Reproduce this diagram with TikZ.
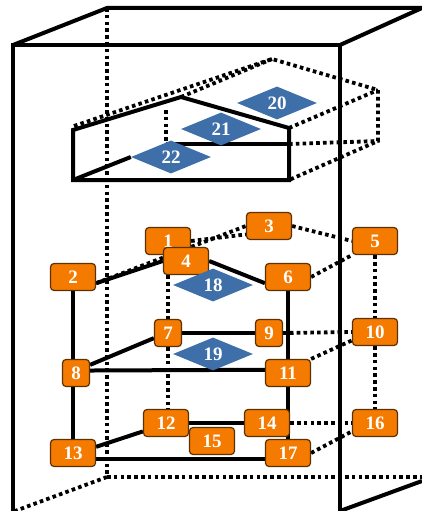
\documentclass[tikz,border=0pt]{standalone}
\usepackage{fontspec}
\setmainfont{Liberation Serif}
\usetikzlibrary{shapes.geometric,backgrounds,calc}
\definecolor{orangebox}{HTML}{F57A00}
\definecolor{orangeedge}{HTML}{5A3208}
\definecolor{bluedia}{HTML}{3F6FA8}
\tikzset{
  solidline/.style={line width=4pt,black,line join=miter},
  dotline/.style={line width=3.8pt,black,dash pattern=on 3.6pt off 3.2pt},
  labeltext/.style={text=white,font=\bfseries\fontsize{19}{21}\selectfont,inner sep=0pt},
  widebox/.style={labeltext,draw=orangeedge,line width=1.2pt,fill=orangebox,rounded corners=3.5pt,minimum width=45pt,minimum height=27pt},
  narrowbox/.style={widebox,minimum width=27pt},
  diabox/.style={labeltext,diamond,fill=bluedia,draw=none,minimum width=80pt,minimum height=33pt,aspect=2.4},
}
\begin{document}
\begin{tikzpicture}[x=1pt,y=-1pt]
\useasboundingbox (0,0) rectangle (422,511);
% lower assembly nodes
\node[widebox] (n1) at (168,241) {1};
\node[widebox] (n3) at (269,226) {3};
\node[widebox] (n5) at (375,241) {5};
\node[widebox] (n2) at (73,277) {2};
\node[widebox] (n6) at (288,277) {6};
\node[widebox] (n4) at (186,261) {4};
\node[diabox] (n18) at (213,285) {18};
\node[narrowbox] (n7) at (168,333) {7};
\node[narrowbox] (n9) at (269,333) {9};
\node[widebox] (n10) at (375,332) {10};
\node[diabox] (n19) at (213,354) {19};
\node[narrowbox] (n8) at (76,373) {8};
\node[widebox] (n11) at (288,373) {11};
\node[widebox] (n12) at (166,423) {12};
\node[widebox] (n14) at (267,423) {14};
\node[widebox] (n16) at (375,423) {16};
\node[widebox] (n13) at (73,453) {13};
\node[widebox] (n17) at (288,453) {17};
\node[widebox] (n15) at (212,441) {15};
% upper prism nodes
\node[diabox] (n20) at (277,103) {20};
\node[diabox] (n21) at (221,129) {21};
\node[diabox] (n22) at (171,157) {22};
% prism corners
\coordinate (pa) at (73,130);
\coordinate (pb) at (181,97);
\coordinate (pc) at (289,128);
\coordinate (pd) at (289,180);
\coordinate (pe) at (73,180);
\coordinate (pf) at (289,144);
\coordinate (pg) at (166,144);
\coordinate (qa) at (74,126);
\coordinate (qb) at (272,59);
\coordinate (qc) at (378,90);
\coordinate (qd) at (378,141);
\coordinate (qh) at (166,110);
% cabinet corners
\coordinate (fa) at (13,45);
\coordinate (fb) at (340,45);
\coordinate (fc) at (340,511);
\coordinate (fd) at (13,511);
\coordinate (ba) at (107,8);
\coordinate (bb) at (422,8);
\coordinate (bc) at (107,477);
\coordinate (bd) at (422,477);
\coordinate (be) at (422,481);
\coordinate (bf) at (15,511);
\begin{scope}[on background layer]
  % cabinet
  \draw[dotline] (ba) -- (bc);
  \draw[dotline] (bc) -- (bd);
  \draw[dotline] (bc) -- (bf);
  \draw[solidline] (fd) -- (fa) -- (fb) -- (fc);
  \draw[solidline] (fa) -- (ba) -- (bb) -- (fb);
  \draw[solidline] (fc) -- (be);
  % prism
  \draw[dotline] (qa) -- (qb) -- (qc) -- (qd) -- (pd);
  \draw[dotline] (pb) -- (qb);
  \draw[dotline] (pc) -- (qc);
  \draw[dotline] (pf) -- (qd);
  \draw[dotline] (qh) -- (pg);
  \draw[solidline] (pa) -- (pb) -- (pc) -- (pd) -- (pe) -- cycle;
  \draw[solidline] (pe) -- (n22.west);
  \draw[solidline] (pg) -- (pf);
  % lower assembly
  \draw[dotline] (n2.-15) -- (n3.west);
  \draw[dotline] (n1.east) -- (n3.200);
  \draw[dotline] (n3.east) -- (n5.west);
  \draw[dotline] (n6.east) -- (n5.south west);
  \draw[dotline] (n5.south) -- (n10.north);
  \draw[dotline] (n10.south) -- (n16.north);
  \draw[dotline] (n9.east) -- (n10.west);
  \draw[dotline] (n11.north east) -- (n10.200);
  \draw[dotline] (n14.east) -- (n16.west);
  \draw[dotline] (n17.east) -- (n16.200);
  \draw[dotline] (n4.south -| n7) -- (n7.north);
  \draw[dotline] (n7.south) -- (n12.north -| n7);
  \draw[solidline] (n2.-15) -- (n4.west);
  \draw[solidline] (n4.east) -- (n6.195);
  \draw[solidline] (n2.south) -- (n8.north -| n2);
  \draw[solidline] (n8.south -| n13) -- (n13.north);
  \draw[solidline] (n6.south) -- (n11.north);
  \draw[solidline] (n11.south) -- (n17.north);
  \draw[solidline] (n8.30) -- (n7.200);
  \draw[solidline] (n7.east) -- (n9.west);
  \draw[solidline] (n8.10) -- (n11.172);
  \draw[solidline] (n13.15) -- (n12.200);
  \draw[solidline] (n12.east) -- (n14.west);
  \draw[solidline] (n13.-15) -- (n17.195);
\end{scope}
\end{tikzpicture}
\end{document}
